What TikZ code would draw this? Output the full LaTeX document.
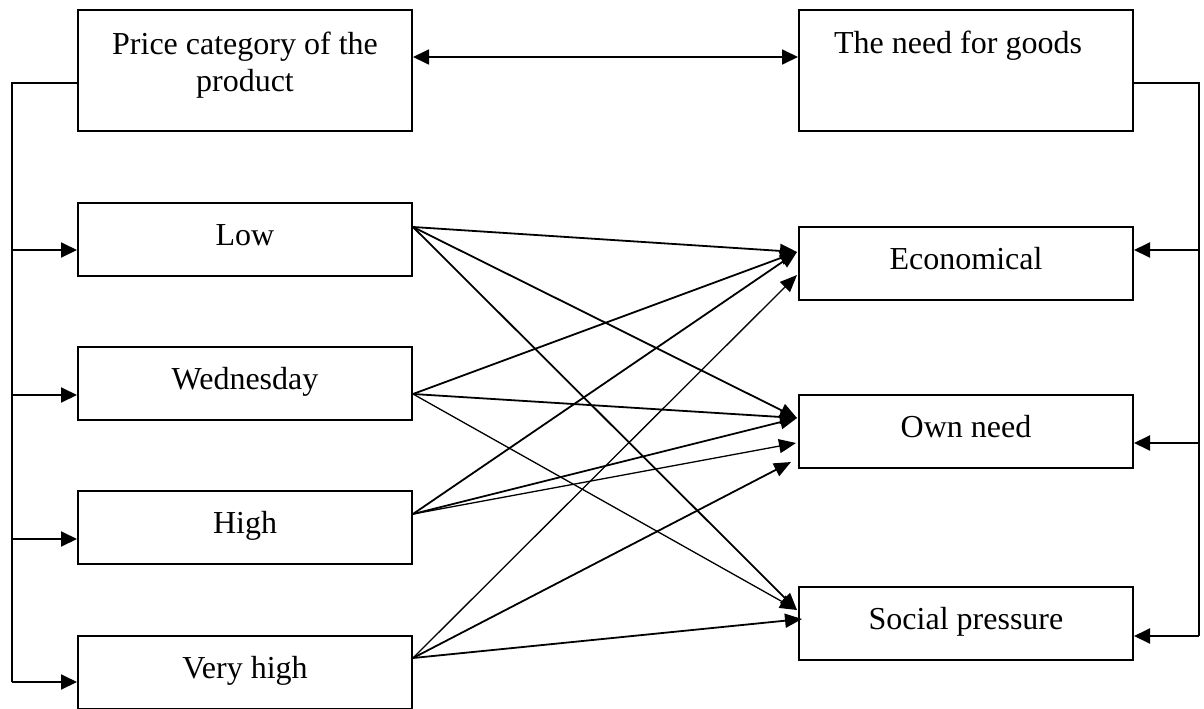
\documentclass[tikz,border=0pt]{standalone}
\usepackage{fontspec}
\setmainfont{Liberation Serif}
\usetikzlibrary{arrows.meta,calc}
\begin{document}
\begin{tikzpicture}[x=1pt,y=-1pt,
  txt/.style={font=\fontsize{32}{37}\selectfont},
  box/.style={draw,line width=2pt,minimum width=334pt,minimum height=73pt,
    inner sep=0pt,txt,text height=20pt,text depth=8pt},
  bigbox/.style={box,minimum height=121pt},
  lbl/.style={inner sep=0pt,txt},
  frame/.style={line width=2pt},
  tip/.style={-{Triangle[length=16pt,width=15pt]}},
  link/.style={line width=1.8pt,-{Triangle[length=17pt,width=14pt]}},
  lightlink/.style={link,line width=1.3pt},
]
\useasboundingbox (0,0) rectangle (1204,709);

% header boxes
\node[bigbox] (price) at (245,70.5) {};
\node[bigbox] (need)  at (966,70.5) {};
\node[lbl,align=center] (pricetxt) at (245,65) {Price category of the\\product};
\node[lbl,anchor=base] (needtxt) at (958,53) {The need for goods};

% price levels
\node[box] (low)   at (245,239)   {Low};
\node[box] (wed)   at (245,383)   {Wednesday};
\node[box] (high)  at (245,527.5) {High};
\node[box] (vhigh) at (245,672)   {Very high};

% kinds of need
\node[box] (econ)   at (966,263)   {Economical};
\node[box] (own)    at (966,431.5) {Own need};
\node[box] (social) at (966,623.5) {Social pressure};

% two-way link between the headers
\coordinate (topy) at (600,57);
\draw[line width=1.8pt,{Triangle[length=16pt,width=15pt]}-{Triangle[length=16pt,width=15pt]}]
  (price.east |- topy) -- (need.west |- topy);

% left bracket feeding the price levels
\coordinate (lx) at (12,0);
\path (price.west) ++(0,12.5) coordinate (pl);
\path (low.west)   ++(0,11)   coordinate (aLow);
\path (wed.west)   ++(0,12)   coordinate (aWed);
\path (high.west)  ++(0,11.5) coordinate (aHigh);
\path (vhigh.west) ++(0,10)   coordinate (aVhigh);
\draw[frame] (pl) -- (lx |- pl) -- (lx |- aVhigh);
\foreach \t in {aLow,aWed,aHigh,aVhigh}
  \draw[frame,tip] (lx |- \t) -- (\t);

% right bracket feeding the kinds of need
\coordinate (rx) at (1199,0);
\path (need.east)   ++(0,12.5)  coordinate (pr);
\path (econ.east)   ++(0,-13)   coordinate (aEcon);
\path (own.east)    ++(0,11.5)  coordinate (aOwn);
\path (social.east) ++(0,12.5)  coordinate (aSoc);
\draw[frame] (pr) -- (rx |- pr) -- (rx |- aSoc);
\foreach \t in {aEcon,aOwn,aSoc}
  \draw[frame,tip] (rx |- \t) -- (\t);

% start points of the cross links
\path (low.east)   ++(0,-12)   coordinate (sLow);
\path (wed.east)   ++(0,11)    coordinate (sWed);
\path (high.east)  ++(0,-13.5) coordinate (sHigh);
\path (vhigh.east) ++(0,-14)   coordinate (sVhigh);

% end points of the cross links
\path (econ.west)   ++(-1,-11)    coordinate (tE1);
\path (econ.west)   ++(-1,12)     coordinate (tE2);
\path (own.west)    ++(-1,-13.5)  coordinate (tO1);
\path (own.west)    ++(-2,11.5)   coordinate (tO2);
\path (own.west)    ++(-7,30.5)   coordinate (tO3);
\path (social.west) ++(-1,-13.5)  coordinate (tS1);
\path (social.west) ++(4,-4.5)    coordinate (tS2);

% cross links
\draw[link] (sLow) -- (tE1);
\draw[link] (sLow) -- (tO1);
\draw[link] (sLow) -- (tS1);
\draw[link] (sWed) -- (tE1);
\draw[link] (sWed) -- (tO1);
\draw[lightlink] (sWed) -- (tS1);
\draw[link] (sHigh) -- (tE1);
\draw[link] (sHigh) -- (tO1);
\draw[lightlink] (sHigh) -- (tO2);
\draw[lightlink] (sVhigh) -- (tE2);
\draw[link] (sVhigh) -- (tO3);
\draw[link] (sVhigh) -- (tS2);
\end{tikzpicture}
\end{document}
